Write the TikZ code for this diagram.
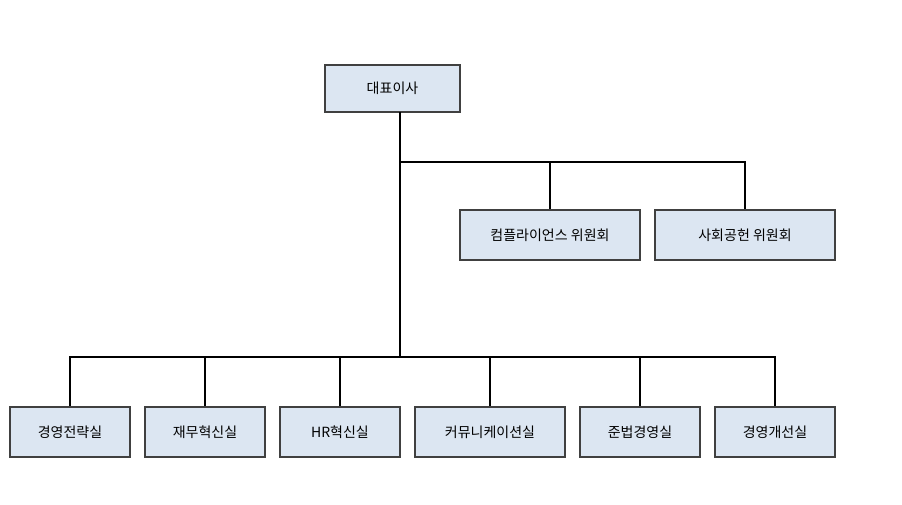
\documentclass[tikz,border=0pt]{standalone}
\usepackage{fontspec}
\setmainfont{Noto Sans CJK KR}
\begin{document}
\begin{tikzpicture}[x=1pt,y=-1pt,
  box/.style={draw=black!75,line width=1.6pt,fill={rgb,255:red,220;green,230;blue,242},inner sep=0pt,font=\fontsize{14}{16}\selectfont},
  ln/.style={line width=1.6pt}]
\useasboundingbox (0,0) rectangle (902,504);
\node[box,minimum width=135,minimum height=47] (ceo) at (392.5,88.5) {대표이사};
\node[box,minimum width=180,minimum height=50] (c1) at (550,235) {컴플라이언스 위원회};
\node[box,minimum width=180,minimum height=50] (c2) at (745,235) {사회공헌 위원회};
\node[box,minimum width=120,minimum height=50] (b1) at (70,432) {경영전략실};
\node[box,minimum width=120,minimum height=50] (b2) at (205,432) {재무혁신실};
\node[box,minimum width=120,minimum height=50] (b3) at (340,432) {HR혁신실};
\node[box,minimum width=150,minimum height=50] (b4) at (490,432) {커뮤니케이션실};
\node[box,minimum width=120,minimum height=50] (b5) at (640,432) {준법경영실};
\node[box,minimum width=120,minimum height=50] (b6) at (775,432) {경영개선실};
\coordinate (t) at (400,112);
\coordinate (j1) at (400,162);
\coordinate (j2) at (400,357);
\draw[ln] (t) -- (j2);
\draw[ln] (j1) -| (c1.north);
\draw[ln] (j1) -| (c2.north);
\foreach \b in {b1,b2,b3,b4,b5,b6} \draw[ln] (j2) -| (\b.north);
\end{tikzpicture}
\end{document}
